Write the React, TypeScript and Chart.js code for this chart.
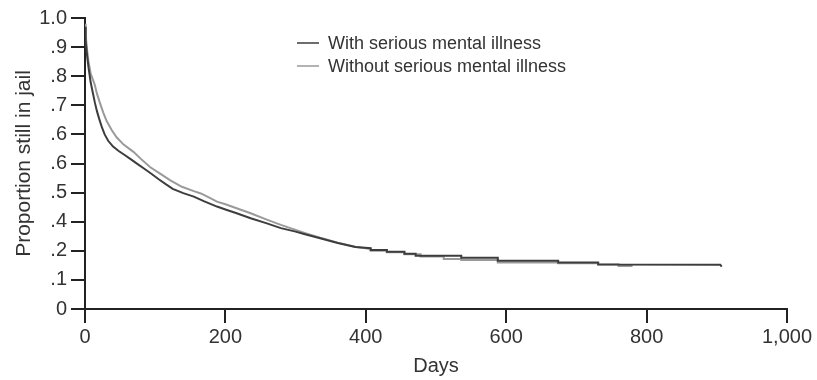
import React, { useEffect, useRef } from "react";
import { Chart, registerables } from "chart.js";

Chart.register(...registerables);

// Kaplan-Meier style survival curves (days, proportion still in jail).
// Repeated days mark the visible vertical steps in the tail of each curve.
const withSmiDays = [0, 1, 3, 5, 8, 11, 14, 17, 20, 24, 28, 33, 40, 48, 56, 65, 75, 85, 95, 105, 115, 125, 140, 155, 170, 188, 200, 215, 236, 258, 279, 300, 312, 335, 360, 385, 407, 407, 430, 430, 455, 455, 471, 471, 536, 536, 588, 588, 674, 674, 731, 731, 905, 907];
const withSmiValues = [0.97, 0.92, 0.87, 0.83, 0.78, 0.745, 0.71, 0.68, 0.655, 0.625, 0.6, 0.578, 0.558, 0.543, 0.53, 0.515, 0.498, 0.481, 0.464, 0.446, 0.429, 0.413, 0.398, 0.386, 0.37, 0.352, 0.342, 0.33, 0.312, 0.295, 0.278, 0.266, 0.258, 0.243, 0.227, 0.213, 0.209, 0.203, 0.203, 0.197, 0.197, 0.19, 0.19, 0.183, 0.183, 0.176, 0.176, 0.166, 0.166, 0.16, 0.16, 0.153, 0.152, 0.146];

const withoutSmiDays = [0, 1, 3, 5, 8, 11, 14, 17, 21, 26, 31, 38, 45, 55, 69, 80, 93, 107, 121, 138, 155, 165, 175, 188, 200, 215, 236, 258, 279, 300, 315, 335, 360, 385, 407, 407, 430, 430, 455, 455, 478, 478, 511, 511, 536, 536, 588, 588, 674, 674, 731, 731, 760, 760, 780];
const withoutSmiValues = [0.98, 0.94, 0.89, 0.85, 0.81, 0.79, 0.77, 0.74, 0.71, 0.675, 0.645, 0.615, 0.59, 0.565, 0.54, 0.515, 0.487, 0.465, 0.443, 0.42, 0.405, 0.397, 0.385, 0.369, 0.36, 0.347, 0.329, 0.308, 0.289, 0.272, 0.26, 0.245, 0.228, 0.214, 0.206, 0.2, 0.2, 0.195, 0.195, 0.188, 0.188, 0.18, 0.18, 0.172, 0.172, 0.168, 0.168, 0.16, 0.16, 0.157, 0.157, 0.154, 0.154, 0.148, 0.148];

const seriesLabels = ["With serious mental illness", "Without serious mental illness"];
const seriesColors = ["#3d3d3d", "#9a9a9a"];

// y tick labels from bottom (0) to top (1.0), as printed in the original
const yTickLabels = ["0", ".1", ".2", ".4", ".5", ".6", ".6", ".7", ".8", ".9", "1.0"];
const xTickLabels = ["0", "200", "400", "600", "800", "1,000"];

const FONT = "'Liberation Sans', Arial, Helvetica, sans-serif";
const TEXT = "#333333";
const AXIS = "#222222";

const legendPlugin = {
  id: "inlineLegend",
  afterDraw(chart: any) {
    const { ctx, chartArea } = chart;
    const x0 = chartArea.left + 212;
    const rows = [chartArea.top + 25, chartArea.top + 48];
    ctx.save();
    chart.data.datasets.forEach((ds: any, i: number) => {
      const y = rows[i];
      ctx.strokeStyle = ds.borderColor;
      ctx.lineWidth = 1.5;
      ctx.beginPath();
      ctx.moveTo(x0, y);
      ctx.lineTo(x0 + 22, y);
      ctx.stroke();
      ctx.fillStyle = TEXT;
      ctx.font = `18px ${FONT}`;
      ctx.textBaseline = "middle";
      ctx.textAlign = "left";
      ctx.fillText(ds.label, x0 + 31, y + 1);
    });
    ctx.restore();
  },
};

export default function App() {
  const ref = useRef<HTMLCanvasElement | null>(null);

  useEffect(() => {
    if (!ref.current) return;
    const toPoints = (xs: number[], ys: number[]) => xs.map((x, i) => ({ x, y: ys[i] }));
    const chart = new Chart(ref.current, {
      type: "line",
      data: {
        datasets: [
          {
            label: seriesLabels[0],
            data: toPoints(withSmiDays, withSmiValues),
            borderColor: seriesColors[0],
            borderWidth: 2,
            pointRadius: 0,
            tension: 0,
            fill: false,
          },
          {
            label: seriesLabels[1],
            data: toPoints(withoutSmiDays, withoutSmiValues),
            borderColor: seriesColors[1],
            borderWidth: 2,
            pointRadius: 0,
            tension: 0,
            fill: false,
          },
        ],
      },
      options: {
        animation: false,
        responsive: false,
        layout: { padding: { left: 0, top: 18, right: 30, bottom: 0 } },
        plugins: {
          legend: { display: false },
          tooltip: { enabled: false },
        },
        scales: {
          x: {
            type: "linear",
            min: 0,
            max: 1000,
            afterFit: (scale: any) => {
              scale.height = 71;
            },
            ticks: {
              stepSize: 200,
              color: TEXT,
              font: { family: FONT, size: 20 },
              padding: 2,
              maxRotation: 0,
              callback: (_v: any, i: number) => xTickLabels[i],
            },
            grid: {
              drawOnChartArea: false,
              color: AXIS,
              lineWidth: 2,
              tickLength: 14,
            },
            border: { color: AXIS, width: 2 },
            title: {
              display: true,
              text: "Days",
              color: TEXT,
              font: { family: FONT, size: 20 },
              padding: { top: 0, bottom: 2 },
            },
          },
          y: {
            type: "linear",
            min: 0,
            max: 1,
            afterFit: (scale: any) => {
              scale.width = 85;
            },
            ticks: {
              stepSize: 0.1,
              color: TEXT,
              font: { family: FONT, size: 20 },
              padding: 4,
              callback: (_v: any, i: number) => yTickLabels[i],
            },
            grid: {
              drawOnChartArea: false,
              color: AXIS,
              lineWidth: 2,
              tickLength: 14,
            },
            border: { color: AXIS, width: 2 },
            title: {
              display: true,
              text: "Proportion still in jail",
              color: TEXT,
              font: { family: FONT, size: 21 },
              padding: { top: 12, bottom: 0 },
            },
          },
        },
      },
      plugins: [legendPlugin],
    });
    return () => chart.destroy();
  }, []);

  return (
    <div style={{ position: "fixed", left: 0, top: 0, width: 817, height: 380, background: "#fff" }}>
      <canvas ref={ref} width={817} height={380} style={{ width: 817, height: 380 }} />
    </div>
  );
}
